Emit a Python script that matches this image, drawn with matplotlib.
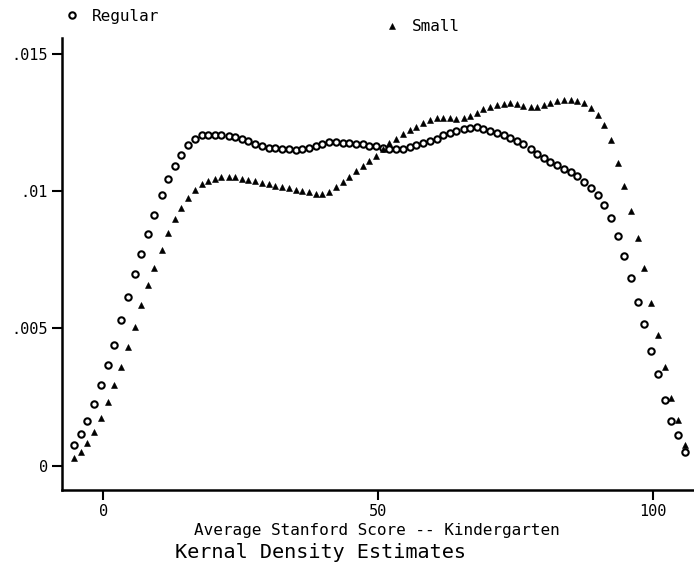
import matplotlib
matplotlib.use('Agg')
from matplotlib import pyplot as plt

# evaluation grid of the kernel density (test score)
score = [-5.3, -4.1, -2.9, -1.6, -0.4, 0.8, 2.0, 3.2, 4.5, 5.7,
         6.9, 8.1, 9.3, 10.6, 11.8, 13.0, 14.2, 15.4, 16.7, 17.9,
         19.1, 20.3, 21.5, 22.8, 24.0, 25.2, 26.4, 27.6, 28.9, 30.1,
         31.3, 32.5, 33.7, 35.0, 36.2, 37.4, 38.6, 39.8, 41.1, 42.3,
         43.5, 44.7, 45.9, 47.2, 48.4, 49.6, 50.8, 52.0, 53.3, 54.5,
         55.7, 56.9, 58.1, 59.4, 60.6, 61.8, 63.0, 64.2, 65.5, 66.7,
         67.9, 69.1, 70.3, 71.6, 72.8, 74.0, 75.2, 76.4, 77.7, 78.9,
         80.1, 81.3, 82.5, 83.8, 85.0, 86.2, 87.4, 88.6, 89.9, 91.1,
         92.3, 93.5, 94.7, 96.0, 97.2, 98.4, 99.6, 100.8, 102.1, 103.3,
         104.5, 105.7]

regular = [0.00075, 0.00115, 0.00163, 0.00225, 0.00294, 0.00367, 0.00440, 0.00531, 0.00614, 0.00698,
           0.00771, 0.00844, 0.00913, 0.00986, 0.01044, 0.01091, 0.01132, 0.01168, 0.01190, 0.01203,
           0.01206, 0.01206, 0.01204, 0.01201, 0.01197, 0.01190, 0.01183, 0.01172, 0.01163, 0.01159,
           0.01157, 0.01153, 0.01153, 0.01150, 0.01152, 0.01157, 0.01164, 0.01172, 0.01179, 0.01179,
           0.01177, 0.01175, 0.01173, 0.01172, 0.01166, 0.01163, 0.01157, 0.01153, 0.01152, 0.01155,
           0.01162, 0.01168, 0.01174, 0.01183, 0.01192, 0.01204, 0.01213, 0.01221, 0.01227, 0.01232,
           0.01234, 0.01228, 0.01221, 0.01212, 0.01203, 0.01195, 0.01184, 0.01172, 0.01153, 0.01137,
           0.01122, 0.01108, 0.01095, 0.01082, 0.01070, 0.01055, 0.01035, 0.01011, 0.00986, 0.00949,
           0.00902, 0.00837, 0.00764, 0.00682, 0.00596, 0.00516, 0.00418, 0.00334, 0.00241, 0.00163,
           0.00110, 0.00050]

small = [0.00028, 0.00050, 0.00083, 0.00123, 0.00174, 0.00232, 0.00294, 0.00359, 0.00432, 0.00505,
         0.00585, 0.00658, 0.00720, 0.00786, 0.00847, 0.00898, 0.00939, 0.00975, 0.01004, 0.01026,
         0.01037, 0.01044, 0.01050, 0.01051, 0.01050, 0.01046, 0.01042, 0.01037, 0.01031, 0.01026,
         0.01020, 0.01015, 0.01011, 0.01006, 0.01002, 0.00997, 0.00990, 0.00988, 0.00997, 0.01015,
         0.01033, 0.01051, 0.01073, 0.01093, 0.01110, 0.01128, 0.01155, 0.01175, 0.01192, 0.01210,
         0.01223, 0.01235, 0.01248, 0.01261, 0.01266, 0.01268, 0.01266, 0.01264, 0.01266, 0.01275,
         0.01286, 0.01301, 0.01308, 0.01314, 0.01319, 0.01323, 0.01319, 0.01312, 0.01306, 0.01306,
         0.01314, 0.01323, 0.01328, 0.01332, 0.01333, 0.01330, 0.01323, 0.01303, 0.01277, 0.01241,
         0.01186, 0.01102, 0.01019, 0.00928, 0.00829, 0.00720, 0.00593, 0.00476, 0.00359, 0.00247,
         0.00166, 0.00075]

yticks = [0, 0.005, 0.01, 0.015]
ytick_labels = ['0', '.005', '.01', '.015']
xticks = [0, 50, 100]

plt.rcParams['font.family'] = ['DejaVu Sans Mono']

fig = plt.figure(figsize=(6.94, 5.73), dpi=100)
ax = fig.add_axes([0.0893, 0.1449, 0.9107, 0.7887])

pts_reg, = ax.plot(score, regular, 'o', ms=4.6, mew=1.5, mec='black', mfc='white',
                   linestyle='none', clip_on=False)
pts_small, = ax.plot(score, small, '^', ms=5, mew=0.4, mec='black', mfc='black',
                     linestyle='none', clip_on=False)

ax.set_xlim(-7.5, 107.4)
ax.set_ylim(-0.000885, 0.01558)
ax.set_xticks(xticks)
ax.set_xticklabels([str(t) for t in xticks])
ax.set_yticks(yticks)
ax.set_yticklabels(ytick_labels)

for side in ['top', 'right']:
    ax.spines[side].set_visible(False)
for side in ['left', 'bottom']:
    ax.spines[side].set_linewidth(1.8)
ax.tick_params(axis='both', direction='out', length=7, width=1.5, labelsize=11, pad=3)

fig.text(0.543, 0.075, 'Average Stanford Score -- Kindergarten', ha='center', va='center', fontsize=11.5)
fig.text(0.4625, 0.035, 'Kernal Density Estimates', ha='center', va='center', fontsize=14.5)

fig.legend([pts_reg], ['Regular'], loc='center left', bbox_to_anchor=(0.0951, 0.972),
           frameon=False, fontsize=11.5, handlelength=0.8, handletextpad=0.8,
           borderpad=0, borderaxespad=0, numpoints=1)
fig.legend([pts_small], ['Small'], loc='center left', bbox_to_anchor=(0.556, 0.953),
           frameon=False, fontsize=11.5, handlelength=0.8, handletextpad=0.8,
           borderpad=0, borderaxespad=0, numpoints=1)

fig.savefig('out.png', dpi=100)
